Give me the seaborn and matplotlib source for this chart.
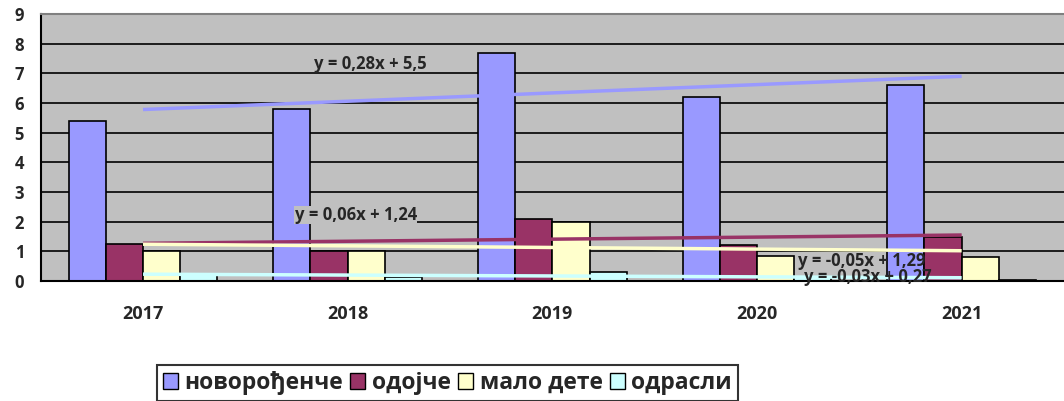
import numpy as np
import pandas as pd
import matplotlib
matplotlib.use('Agg')
import matplotlib.pyplot as plt
import seaborn as sns
from matplotlib.patches import Patch

years = ['2017', '2018', '2019', '2020', '2021']
groups = ['новорођенче', 'одојче', 'мало дете', 'одрасли']
novorodjence = [5.4, 5.8, 7.7, 6.2, 6.6]
odojce = [1.25, 1.0, 2.1, 1.2, 1.5]
malo_dete = [1.0, 1.0, 2.0, 0.85, 0.8]
odrasli = [0.2, 0.15, 0.3, 0.15, 0.05]
colors = ['#9999FF', '#993366', '#FFFFCC', '#CCFFFF']
trend_labels = ['y = 0,28x + 5,5', 'y = 0,06x + 1,24', 'y = -0,05x + 1,29', 'y = -0,03x + 0,27']

sns.set_style('white')
plt.rcParams['font.family'] = ['Open Sans', 'DejaVu Sans']
plt.rcParams['font.weight'] = 'bold'

series = [novorodjence, odojce, malo_dete, odrasli]
df = pd.DataFrame({
    'year': np.tile(years, len(groups)),
    'group': np.repeat(groups, len(years)),
    'value': np.concatenate(series),
})

fig = plt.figure(figsize=(10.64, 4.01), dpi=100)
ax = fig.add_axes([40.7 / 1064, (401 - 281) / 401, 1 - 40.7 / 1064, (281 - 14) / 401])
ax.set_facecolor('#C0C0C0')

sns.barplot(data=df, x='year', y='value', hue='group', palette=colors, saturation=1,
            edgecolor='black', linewidth=1.2, width=0.727, ax=ax, legend=False,
            zorder=2)

# linear trendlines per series
xs = np.arange(len(years))
for vals, c in zip(series, colors):
    k, b = np.polyfit(xs, vals, 1)
    ax.plot(xs, k * xs + b, color=c, lw=2.5, zorder=3, solid_capstyle='butt')

# equation labels
txt_pos = [(1.11, 7.3), (1.04, 2.22), (3.51, 0.67), (3.54, 0.12)]
txt_box = [False, True, False, False]
for lab, (tx, ty), boxed in zip(trend_labels, txt_pos, txt_box):
    bb = dict(facecolor='#C0C0C0', edgecolor='none', pad=0.2) if boxed else None
    ax.text(tx, ty, lab, ha='center', va='center', fontsize=12, fontweight='bold',
            zorder=4, bbox=bb)

ax.set_ylim(0, 9)
ax.set_xlim(-0.5, 4.46)
ax.set_yticks(range(10))
ax.yaxis.grid(True, color='black', lw=1.2)
ax.set_axisbelow(True)
ax.set_xlabel('')
ax.set_ylabel('')

ax.set_xticks(xs)
ax.set_xticklabels(years, fontsize=13, fontweight='bold')
ax.set_xticks(np.arange(-0.5, 5, 1), minor=True)
ax.tick_params(axis='x', which='major', length=0, pad=17)
ax.tick_params(axis='x', which='minor', length=5, width=1.2, color='black', direction='out')
ax.tick_params(axis='y', length=5, width=1.2, color='black', direction='out', labelsize=12, pad=7)
for t in ax.get_yticklabels():
    t.set_fontweight('bold')

for s in ['left', 'bottom']:
    ax.spines[s].set_color('black')
    ax.spines[s].set_linewidth(1.5)
ax.spines['top'].set_color('#808080')
ax.spines['top'].set_linewidth(1.5)
ax.spines['right'].set_visible(False)

handles = [Patch(facecolor=c, edgecolor='black', lw=1) for c in colors]
leg = fig.legend(handles, groups, loc='center', bbox_to_anchor=(447.5 / 1064, (401 - 383) / 401),
                 ncol=4, frameon=True, fancybox=False, edgecolor='black',
                 handlelength=0.65, handleheight=0.65, handletextpad=0.3, columnspacing=0.3,
                 borderpad=0.25, borderaxespad=0, prop={'weight': 'bold', 'size': 16.5})
leg.get_frame().set_linewidth(1.5)

fig.savefig('out.png', dpi=100)
